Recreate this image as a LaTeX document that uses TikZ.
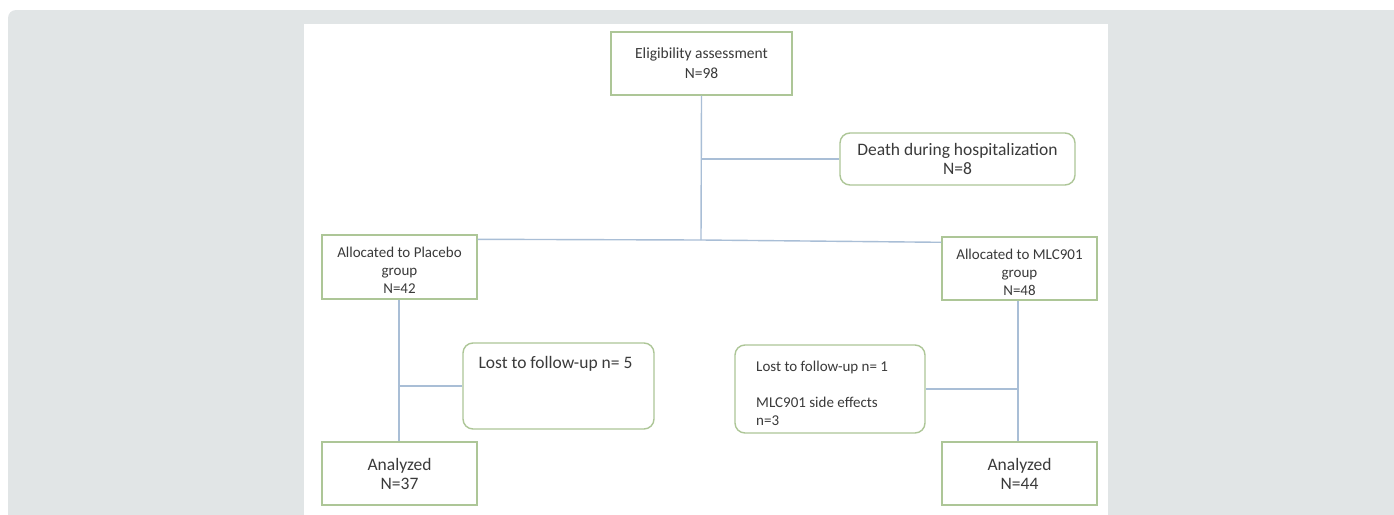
\documentclass[tikz,border=0pt]{standalone}
\usepackage{fontspec}
\setmainfont{Carlito}
\usetikzlibrary{calc}
\definecolor{bggray}{HTML}{E1E5E6}
\definecolor{boxgreen}{HTML}{ADC697}
\definecolor{lineblue}{HTML}{A9BED6}
\definecolor{txt}{HTML}{3A3A3A}
\tikzset{
  sqbox/.style={draw=boxgreen, line width=1.4pt, fill=white, inner sep=0pt, align=center, text=txt},
  rbox/.style={sqbox, rounded corners=10pt},
  conn/.style={draw=lineblue, line width=1.4pt},
  bigfont/.style={font=\fontsize{17.5}{19}\selectfont},
  midfont/.style={font=\fontsize{15.5}{20}\selectfont},
  smallfont/.style={font=\fontsize{15}{18}\selectfont},
  freetext/.style={inner sep=0pt, text=txt, align=left},
}
\begin{document}
\begin{tikzpicture}[x=1pt,y=-1pt]
\useasboundingbox (0,0) rectangle (1394,514);
% background
\fill[bggray, rounded corners=8pt] (8,10) rectangle (1420,540);
\fill[white] (304,24) rectangle (1108,520);

% boxes
\node[sqbox, midfont, minimum width=181pt, minimum height=63pt] (elig) at (701.5,63.5) {Eligibility assessment\\N=98};
\node[rbox, bigfont, minimum width=235pt, minimum height=52pt] (death) at (957.5,159) {Death during hospitalization\\N=8};
\node[sqbox, minimum width=155pt, minimum height=64pt] (plac) at (399.5,267) {};
\node[freetext, align=center, smallfont] (plact) at (399.5,270) {Allocated to Placebo\\group\\N=42};
\node[sqbox, minimum width=155pt, minimum height=63pt] (mlc) at (1019.5,268.5) {};
\node[freetext, align=center, smallfont] (mlct) at (1019.5,272) {Allocated to MLC901\\group\\N=48};
\node[rbox, minimum width=191pt, minimum height=86pt] (lostL) at (558.5,386) {};
\node[freetext, bigfont, anchor=base] (lostLt) at (555.5,368) {Lost to follow-up n= 5};
\node[rbox, minimum width=190pt, minimum height=88pt] (lostR) at (830,389) {};
\node[freetext, smallfont, anchor=base west] (lostRt1) at (756,371) {Lost to follow-up n= 1};
\node[freetext, smallfont, anchor=base west] (lostRt2) at (756,407) {MLC901 side effects};
\node[freetext, smallfont, anchor=base west] (lostRt3) at (756,425) {n=3};
\node[sqbox, bigfont, minimum width=155pt, minimum height=63pt] (anaL) at (399.5,473.5) {Analyzed\\N=37};
\node[sqbox, bigfont, minimum width=155pt, minimum height=63pt] (anaR) at (1019.5,473.5) {Analyzed\\N=44};

% junctions
\coordinate (j1) at (701,240);
\coordinate (jd) at (701,159);
\coordinate (jl) at (399,386);
\coordinate (jr) at (1018,389);

% connectors
\draw[conn] (elig.south) -- (j1);
\draw[conn] (jd) -- (death.west);
\draw[conn] ($(plac.north east)+(0,5)$) -- (j1) -- ($(mlc.north west)+(0,6)$);
\draw[conn] (plac.south -| jl) -- (anaL.north -| jl);
\draw[conn] (jl) -- (lostL.west);
\draw[conn] (mlc.south -| jr) -- (anaR.north -| jr);
\draw[conn] (lostR.east) -- (jr);
\end{tikzpicture}
\end{document}
